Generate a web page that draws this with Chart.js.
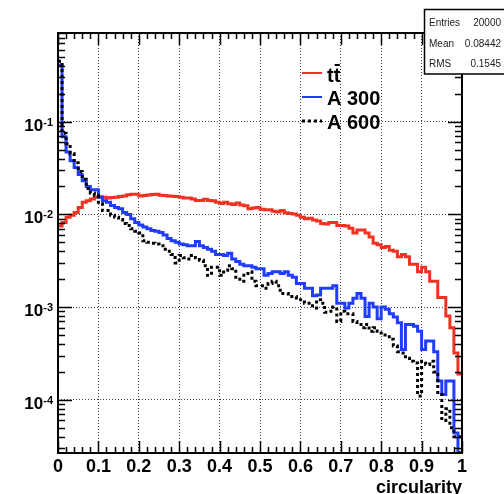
<!DOCTYPE html>
<html>
<head>
<meta charset="utf-8">
<script src="https://cdn.jsdelivr.net/npm/chart.js@4"></script>
<style>
  html, body { margin: 0; padding: 0; background: #fff; }
  #wrap { width: 504px; height: 494px; }
</style>
</head>
<body>
<div id="wrap"><canvas id="c" width="504" height="494"></canvas></div>
<script>
// 100 bins from 0 to 1 (fraction of entries per bin)
const nBins = 100;
const xMin = 0, xMax = 1;

const ttbar = [
  0.0075, 0.0082, 0.0093, 0.0098, 0.0105, 0.0119, 0.0135, 0.0140, 0.0147, 0.0153,
  0.0155, 0.0153, 0.0150, 0.0152, 0.0153, 0.0156, 0.0158, 0.0163, 0.0165, 0.0165,
  0.0158, 0.0160, 0.0162, 0.0164, 0.0165, 0.0161, 0.0160, 0.0158, 0.0157, 0.0156,
  0.0153, 0.0150, 0.0150, 0.0147, 0.0141, 0.0141, 0.0146, 0.0141, 0.0140, 0.0135,
  0.0131, 0.0135, 0.0130, 0.0128, 0.0133, 0.0126, 0.0124, 0.0115, 0.0117, 0.0119,
  0.0114, 0.0112, 0.0112, 0.0108, 0.0106, 0.0110, 0.0104, 0.0102, 0.0101, 0.0098,
  0.0093, 0.0090, 0.0091, 0.0087, 0.0085, 0.0080, 0.0079, 0.0082, 0.0082, 0.0076,
  0.0076, 0.0075, 0.0071, 0.0063, 0.0068, 0.0068, 0.0063, 0.0057, 0.0049, 0.0047,
  0.0044, 0.0045, 0.0041, 0.0040, 0.0035, 0.0037, 0.0035, 0.0029, 0.0029, 0.0024,
  0.0027, 0.0024, 0.0019, 0.0019, 0.00127, 0.00127, 0.0008, 0.0006, 0.00032, 0.00019
];

const a300 = [
  0.41, 0.069, 0.047, 0.038, 0.032, 0.027, 0.023, 0.020, 0.0185, 0.0185,
  0.0153, 0.0140, 0.0135, 0.0125, 0.0119, 0.0115, 0.0105, 0.0100, 0.0090, 0.0082,
  0.0077, 0.0073, 0.0070, 0.0067, 0.0066, 0.0064, 0.0060, 0.0055, 0.0052, 0.0050,
  0.0048, 0.0047, 0.0046, 0.0046, 0.0051, 0.0046, 0.0044, 0.0042, 0.0040, 0.0037,
  0.0037, 0.0036, 0.0038, 0.0033, 0.0031, 0.0029, 0.0028, 0.0028, 0.0027, 0.0026,
  0.0026, 0.0022, 0.0023, 0.0024, 0.0024, 0.0023, 0.0024, 0.0022, 0.0021, 0.0018,
  0.0018, 0.0016, 0.0016, 0.00133, 0.00135, 0.0016, 0.0016, 0.0016, 0.0017, 0.0011,
  0.0011, 0.00098, 0.0011, 0.00125, 0.0014, 0.00125, 0.00079, 0.0011, 0.0010, 0.00075,
  0.0010, 0.00095, 0.00085, 0.00078, 0.00068, 0.00035, 0.00065, 0.00065, 0.00062, 0.00055,
  0.00035, 0.00043, 0.00043, 0.00033, 0.00016, 0.000114, 0.00016, 0.00016, 0.000044, 0.000027
];

const a600 = [
  0.45, 0.075, 0.058, 0.045, 0.036, 0.029, 0.024, 0.019, 0.017, 0.016,
  0.013, 0.011, 0.011, 0.0098, 0.0093, 0.0088, 0.0080, 0.0076, 0.0070, 0.0066,
  0.0063, 0.0052, 0.0050, 0.0049, 0.0048, 0.0046, 0.0042, 0.0040, 0.0037, 0.0030,
  0.0036, 0.0034, 0.0033, 0.0036, 0.0034, 0.0032, 0.0028, 0.0022, 0.0027, 0.0027,
  0.0022, 0.0025, 0.0028, 0.0026, 0.0021, 0.0019, 0.0023, 0.0024, 0.0019, 0.0017,
  0.0017, 0.0016, 0.0018, 0.0019, 0.0017, 0.0014, 0.0014, 0.0013, 0.0013, 0.0012,
  0.0012, 0.0011, 0.0011, 0.00098, 0.0012, 0.0011, 0.00088, 0.0009, 0.0010, 0.0007,
  0.0009, 0.00085, 0.00085, 0.0007, 0.00065, 0.0006, 0.00065, 0.00055, 0.0006, 0.00055,
  0.0005, 0.0005, 0.00045, 0.00038, 0.00033, 0.00032, 0.00028, 0.00026, 0.00025, 0.00011,
  0.00026, 0.00024, 0.00026, 0.0002, 0.00012, 0.00006, 0.00008, 0.00005, 0.00004, 0.00004
];

const xTickValues = [0, 0.1, 0.2, 0.3, 0.4, 0.5, 0.6, 0.7, 0.8, 0.9, 1];
const xTickLabels = ["0", "0.1", "0.2", "0.3", "0.4", "0.5", "0.6", "0.7", "0.8", "0.9", "1"];
const yDecades = [1e-4, 1e-3, 1e-2, 1e-1];
const yExponents = ["-4", "-3", "-2", "-1"];
const yMin = 2.67e-5, yMax = 0.905;
const xTitle = "circularity";

const legendNames = ["tt", "A 300", "A 600"];
const statsNames = ["Entries", "Mean", "RMS"];
const statsValues = ["20000", "0.08442", "0.1545"];

const colRed = "#ee3322";
const colBlue = "#1f3cff";
const colBlack = "#000000";

// histogram -> stepped line: one point per bin low edge, plus the upper edge
function toSteps(arr) {
  const pts = arr.map((v, i) => ({ x: xMin + (xMax - xMin) * i / nBins, y: v }));
  pts.push({ x: xMax, y: arr[arr.length - 1] });
  return pts;
}

const BOLD = '"Liberation Sans", Arial, Helvetica, sans-serif';

const rootFrame = {
  id: "rootFrame",
  afterDraw(chart) {
    const { ctx, chartArea: a, scales: { x, y } } = chart;
    ctx.save();

    // frame
    ctx.strokeStyle = "#000";
    ctx.lineWidth = 2;
    ctx.setLineDash([]);
    ctx.strokeRect(a.left, a.top, a.right - a.left, a.bottom - a.top);

    // inward ticks on all sides
    ctx.lineWidth = 1.5;
    ctx.beginPath();
    for (let k = 0; k <= 50; k++) {
      const px = Math.round(x.getPixelForValue(k / 50)) + 0.5;
      const len = k % 5 === 0 ? 12 : 6;
      ctx.moveTo(px, a.bottom); ctx.lineTo(px, a.bottom - len);
      ctx.moveTo(px, a.top); ctx.lineTo(px, a.top + len);
    }
    for (let e = -5; e <= 0; e++) {
      for (let m = 1; m <= 9; m++) {
        const v = m * Math.pow(10, e);
        if (v < yMin || v > yMax) continue;
        const py = Math.round(y.getPixelForValue(v)) + 0.5;
        const len = m === 1 ? 14 : 7;
        ctx.moveTo(a.left, py); ctx.lineTo(a.left + len, py);
        ctx.moveTo(a.right, py); ctx.lineTo(a.right - len, py);
      }
    }
    ctx.stroke();

    // x tick labels
    ctx.fillStyle = "#000";
    ctx.font = "bold 18px " + BOLD;
    ctx.textAlign = "center";
    ctx.textBaseline = "alphabetic";
    xTickValues.forEach((v, i) => {
      ctx.fillText(xTickLabels[i], x.getPixelForValue(v), 472);
    });

    // y tick labels 10^n
    yDecades.forEach((v, i) => {
      const py = y.getPixelForValue(v);
      ctx.font = "bold 11px " + BOLD;
      const supW = ctx.measureText(yExponents[i]).width;
      ctx.textAlign = "left";
      ctx.fillText(yExponents[i], 53 - supW, py + 4);
      ctx.font = "bold 17px " + BOLD;
      ctx.textAlign = "right";
      ctx.fillText("10", 53 - supW, py + 9);
    });

    // axis title
    ctx.font = "bold 18px " + BOLD;
    ctx.textAlign = "right";
    ctx.fillText(xTitle, a.right, 493);

    // legend
    const legY = [73, 97, 121];
    const legCol = [colRed, colBlue, colBlack];
    for (let i = 0; i < 3; i++) {
      ctx.strokeStyle = legCol[i];
      if (i === 2) { ctx.lineWidth = 3; ctx.setLineDash([3, 3]); }
      else { ctx.lineWidth = 2; ctx.setLineDash([]); }
      ctx.beginPath();
      ctx.moveTo(302, legY[i]); ctx.lineTo(322, legY[i]);
      ctx.stroke();
    }
    ctx.setLineDash([]);
    ctx.fillStyle = "#000";
    ctx.font = "bold 20px " + BOLD;
    ctx.textAlign = "left";
    ctx.fillText(legendNames[0], 327, 82);
    const tw = ctx.measureText("t").width;
    ctx.fillRect(327 + tw + 1, 64, tw - 1.5, 2);
    ctx.fillText(legendNames[1], 327, 105);
    ctx.fillText(legendNames[2], 327, 129);

    // stats box
    ctx.fillStyle = "#fff";
    ctx.fillRect(424, 9, 90, 65);
    ctx.strokeStyle = "#000";
    ctx.lineWidth = 1.5;
    ctx.strokeRect(424.5, 9.5, 90, 64.5);
    ctx.fillStyle = "#222";
    ctx.font = "10px " + BOLD;
    const rowY = [26, 46.5, 66.5];
    statsNames.forEach((n, i) => {
      ctx.textAlign = "left";
      ctx.fillText(n, 429, rowY[i]);
      ctx.textAlign = "right";
      ctx.fillText(statsValues[i], 501, rowY[i]);
    });

    ctx.restore();
  }
};

const gridStyle = { color: "#444", lineWidth: 1, drawTicks: false };

new Chart(document.getElementById("c"), {
  type: "line",
  data: {
    datasets: [
      { label: "A 600", data: toSteps(a600), borderColor: colBlack, borderWidth: 3, borderDash: [3, 3], order: 0 },
      { label: "A 300", data: toSteps(a300), borderColor: colBlue, borderWidth: 3, order: 1 },
      { label: "ttbar", data: toSteps(ttbar), borderColor: colRed, borderWidth: 3, order: 2 }
    ].map(d => Object.assign(d, { stepped: true, pointRadius: 0, fill: false, borderJoinStyle: "miter", borderCapStyle: "butt" }))
  },
  options: {
    responsive: false,
    animation: false,
    events: [],
    layout: { padding: { top: 33, right: 42, left: 0, bottom: 0 } },
    plugins: { legend: { display: false }, tooltip: { enabled: false } },
    scales: {
      x: {
        type: "linear", min: xMin, max: xMax,
        afterFit: s => { s.height = 41; },
        ticks: { display: false, stepSize: 0.1 },
        grid: gridStyle,
        border: { display: false, dash: [1, 2] }
      },
      y: {
        type: "logarithmic", min: yMin, max: yMax,
        afterFit: s => { s.width = 58; },
        afterBuildTicks: s => { s.ticks = yDecades.map(v => ({ value: v })); },
        ticks: { display: false },
        grid: gridStyle,
        border: { display: false, dash: [1, 2] }
      }
    }
  },
  plugins: [rootFrame]
});
</script>
</body>
</html>
